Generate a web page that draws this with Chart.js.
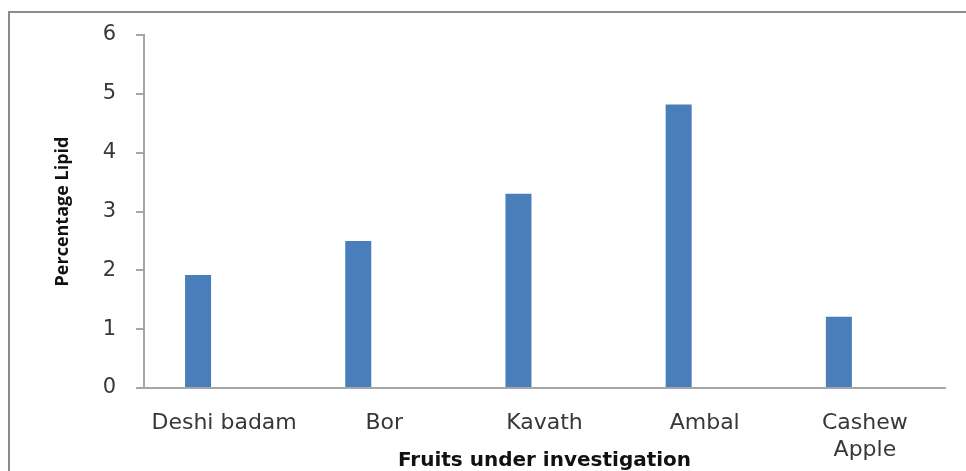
<!DOCTYPE html>
<html>
<head>
<meta charset="utf-8">
<script src="https://cdn.jsdelivr.net/npm/chart.js@4/dist/chart.umd.min.js"></script>
<style>
  html, body { margin: 0; padding: 0; background: #ffffff; }
  #wrap { position: relative; width: 966px; height: 471px; overflow: hidden; }
  #frame {
    position: absolute; left: 8px; top: 11px; width: 1000px; height: 520px;
    border: 2px solid #8c8c8c; box-sizing: border-box; pointer-events: none;
  }
  canvas { position: absolute; left: 0; top: 0; }
</style>
</head>
<body>
<div id="wrap">
  <canvas id="chart" width="966" height="471"></canvas>
  <div id="frame"></div>
</div>
<script>
// Lipid content of fruits (%)
const fruits = ["Deshi badam", "Bor", "Kavath", "Ambal", ["Cashew", "Apple"]];
const lipidPercent = [1.92, 2.50, 3.30, 4.82, 1.21];
// second (empty) series keeps each bar on the left half of its category
const emptySeries = [null, null, null, null, null];
const yTicks = [0, 1, 2, 3, 4, 5, 6];

new Chart(document.getElementById("chart"), {
  type: "bar",
  data: {
    labels: fruits,
    datasets: [
      {
        label: "Percentage Lipid",
        data: lipidPercent,
        backgroundColor: "#4a7ebb",
        borderWidth: 0,
        categoryPercentage: 0.65,
        barPercentage: 0.5
      },
      {
        label: "",
        data: emptySeries,
        backgroundColor: "#c0504d",
        categoryPercentage: 0.65,
        barPercentage: 0.5
      }
    ]
  },
  options: {
    responsive: false,
    animation: false,
    devicePixelRatio: 1,
    layout: { padding: { left: 0, right: 21, top: 35, bottom: 0 } },
    plugins: {
      legend: { display: false },
      tooltip: { enabled: false }
    },
    scales: {
      x: {
        grid: { display: false, drawTicks: false },
        border: { display: true, color: "#a6a6a6", width: 2 },
        ticks: {
          color: "#383838",
          font: { family: "DejaVu Sans", size: 22, lineHeight: 1.22 },
          padding: 22,
          maxRotation: 0,
          autoSkip: false
        },
        title: {
          display: true,
          text: "Fruits under investigation",
          color: "#111111",
          font: { family: "DejaVu Sans", size: 20, weight: "bold", lineHeight: 1.2 },
          padding: { top: 0, bottom: -2 }
        },
        afterFit(scale) { scale.height = 83; }
      },
      y: {
        min: 0,
        max: 6,
        afterBuildTicks(scale) { scale.ticks = yTicks.map(v => ({ value: v })); },
        grid: {
          display: true,
          drawOnChartArea: false,
          drawTicks: true,
          tickLength: 8,
          color: "#a6a6a6",
          lineWidth: 2
        },
        border: { display: true, color: "#a6a6a6", width: 2 },
        ticks: {
          color: "#383838",
          font: { family: "DejaVu Sans", size: 21 },
          padding: 20
        },
        title: {
          display: true,
          text: "Percentage Lipid",
          color: "#111111",
          font: { family: "Open Sans", size: 18, weight: "bold", lineHeight: 1.2 },
          padding: { top: 52, bottom: 0 }
        },
        afterFit(scale) { scale.width = 144; }
      }
    }
  }
});
</script>
</body>
</html>
